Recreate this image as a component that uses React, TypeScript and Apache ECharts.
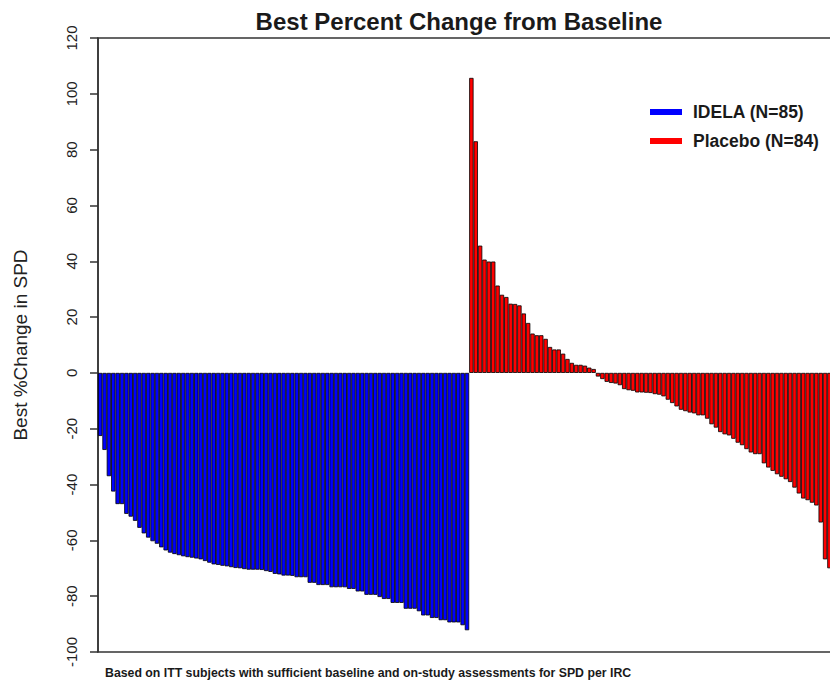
import React, { useEffect, useRef } from "react";
import * as echarts from "echarts";

const titleText = "Best Percent Change from Baseline";
const yAxisName = "Best %Change in SPD";
const footnote = "Based on ITT subjects with sufficient baseline and on-study assessments for SPD per IRC";
const seriesNames = ["IDELA (N=85)", "Placebo (N=84)"];

const idelaValues = [
  -22.6, -27.6, -37, -42.5, -47, -47, -50.5, -51.5, -53, -55.5,
  -57.5, -59, -60.3, -61.2, -62.5, -63.6, -64.4, -64.9, -65.3, -65.7,
  -66, -66.2, -66.5, -66.8, -67.4, -68, -68.6, -68.8, -69.1, -69.3,
  -69.6, -69.9, -70, -70.3, -70.5, -70.5, -70.5, -70.6, -71, -71.3,
  -72, -72.2, -72.6, -72.6, -72.7, -73.2, -73.2, -73.2, -75.2, -75.2,
  -76, -76, -76, -76.8, -76.8, -76.8, -76.8, -77.4, -77.4, -78.3,
  -78.3, -79.5, -79.5, -79.5, -80.3, -81, -81, -82.4, -82.4, -82.4,
  -84.5, -84.5, -84.5, -85.4, -86.9, -86.9, -87.8, -87.8, -88.6, -88.6,
  -89.4, -89.4, -89.4, -90.4, -92.2,
];

const placeboValues = [
  105.7, 83, 45.6, 40.6, 39.9, 39.9, 31.3, 28, 27.2, 24.8,
  24.7, 24.2, 21.3, 17.9, 14.1, 13.5, 13.5, 12.2, 9.3, 8.4,
  8.4, 6.9, 5, 3.6, 2.9, 2.9, 2.6, 1.9, 1.4, -1.3,
  -2.2, -3.2, -3.6, -3.8, -4.4, -5.8, -6.2, -6.4, -7, -7,
  -7.1, -7.2, -7.6, -7.8, -8.4, -9.6, -10.8, -12, -13.2, -13.7,
  -14.2, -14.5, -15.2, -15.2, -16.4, -18.4, -19.6, -21.2, -22, -22.4,
  -23.6, -25, -25.9, -27.3, -28.5, -29.1, -29.1, -32.4, -33.9, -35.1,
  -36.3, -37.2, -38.1, -39.1, -41.1, -43.2, -45, -45.6, -46.5, -47.5,
  -53.6, -66.8, -70, -72,
];

const yMin = -100;
const yMax = 120;
const yInterval = 20;

const FONT = "'Liberation Sans', Arial, sans-serif";

export default function App() {
  const ref = useRef<HTMLDivElement>(null);

  useEffect(() => {
    if (!ref.current) return;
    const chart = echarts.init(ref.current, null, { renderer: "svg" });
    const total = idelaValues.length + placeboValues.length;
    const categories = Array.from({ length: total }, (_, i) => String(i + 1));
    const idelaData = [...idelaValues, ...placeboValues.map(() => "-")];
    const placeboData = [...idelaValues.map(() => "-"), ...placeboValues];

    chart.setOption({
      animation: false,
      backgroundColor: "#ffffff",
      textStyle: { fontFamily: FONT },
      grid: {
        left: 98,
        right: 4,
        top: 38,
        bottom: 29,
        show: true,
        borderColor: "#333",
        borderWidth: 1.5,
        backgroundColor: "transparent",
      },
      legend: {
        orient: "vertical",
        left: 645,
        top: 98,
        icon: "rect",
        itemWidth: 32,
        itemHeight: 6,
        itemGap: 11,
        itemStyle: { borderWidth: 0 },
        textStyle: {
          fontFamily: FONT,
          fontSize: 17.5,
          fontWeight: "bold",
          color: "#1a1a1a",
          padding: [0, 0, 0, 6],
        },
        data: seriesNames,
      },
      xAxis: {
        type: "category",
        data: categories,
        axisLine: { show: false },
        axisTick: { show: false },
        axisLabel: { show: false },
        splitLine: { show: false },
      },
      yAxis: {
        type: "value",
        min: yMin,
        max: yMax,
        interval: yInterval,
        name: yAxisName,
        nameLocation: "middle",
        nameRotate: 90,
        nameGap: 68,
        nameTextStyle: { fontFamily: FONT, fontSize: 19, color: "#222" },
        axisLine: { show: true, lineStyle: { color: "#333", width: 1.5 } },
        axisTick: { show: true, length: 8, lineStyle: { color: "#333", width: 1.5 } },
        axisLabel: { rotate: 90, margin: 19, fontSize: 15, color: "#222", fontFamily: FONT },
        splitLine: { show: false },
      },
      series: [
        {
          name: seriesNames[0],
          type: "bar",
          stack: "s",
          barCategoryGap: "0%",
          data: idelaData,
          itemStyle: { color: "#0000FF", borderColor: "#000", borderWidth: 0.8 },
        },
        {
          name: seriesNames[1],
          type: "bar",
          stack: "s",
          barCategoryGap: "0%",
          data: placeboData,
          itemStyle: { color: "#FF0000", borderColor: "#000", borderWidth: 0.8 },
        },
      ],
      graphic: [
        {
          type: "text",
          x: 459,
          y: 21.5,
          style: {
            text: titleText,
            fontFamily: FONT,
            fontSize: 24,
            fontWeight: "bold",
            fill: "#1a1a1a",
            textAlign: "center",
            textVerticalAlign: "middle",
            verticalAlign: "middle",
          },
        },
        {
          type: "text",
          x: 105,
          y: 673,
          style: {
            text: footnote,
            fontFamily: FONT,
            fontSize: 12.3,
            fontWeight: "bold",
            fill: "#1a1a1a",
            textAlign: "left",
            textVerticalAlign: "middle",
            verticalAlign: "middle",
          },
        },
      ],
    });
    return () => chart.dispose();
  }, []);

  return (
    <div
      ref={ref}
      style={{ position: "fixed", left: 0, top: 0, width: 840, height: 681, background: "#fff" }}
    />
  );
}
